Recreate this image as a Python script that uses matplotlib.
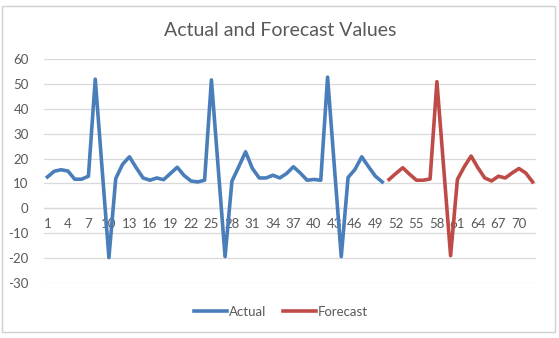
import matplotlib.pyplot as plt
from matplotlib.patches import Rectangle

plt.rcParams['font.family'] = ['Lato', 'DejaVu Sans']
plt.rcParams['axes.unicode_minus'] = False

# periods 1..72, actual covers 1..50, forecast 51..72
actual_x = list(range(1, 51))
actual = [12.6, 14.9, 15.5, 15.0, 11.7, 11.7, 12.9, 51.9, 16.0, -19.8,
          12.0, 17.7, 20.7, 16.3, 12.2, 11.3, 12.2, 11.5, 14.0, 16.5,
          13.2, 11.0, 10.6, 11.3, 51.6, 16.0, -19.4, 10.9, 16.7, 22.7,
          16.0, 12.2, 12.2, 13.3, 12.2, 14.0, 16.7, 14.2, 11.3, 11.6,
          11.3, 52.7, 16.5, -19.4, 12.4, 15.6, 20.7, 16.7, 12.9, 10.6]
forecast_x = list(range(51, 73))
forecast = [11.6, 14.0, 16.3, 13.7, 11.3, 11.3, 11.8, 50.9, 16.0, -19.0,
            11.6, 16.7, 21.0, 16.3, 12.2, 11.0, 12.9, 12.2, 14.2, 16.0,
            14.2, 10.6]
x_ticks = list(range(1, 73, 3))
y_ticks = list(range(-30, 61, 10))

txt = '#595959'
grid = '#D9D9D9'

fig = plt.figure(figsize=(5.59, 3.38), dpi=100)
ax = fig.add_axes([44 / 559, 1 - 283 / 338, 492 / 559, 224 / 338])

ax.plot(actual_x, actual, color='#4A7EBB', lw=2.6, label='Actual', zorder=3)
ax.plot(forecast_x, forecast, color='#BE4B48', lw=2.6, label='Forecast', zorder=3)

ax.set_xlim(0.5, 72.5)
ax.set_ylim(-30, 60)
ax.set_yticks(y_ticks)
ax.set_xticks(x_ticks)
ax.yaxis.grid(True, color=grid, lw=0.9)
ax.set_axisbelow(True)
for s in ['top', 'right', 'left']:
    ax.spines[s].set_visible(False)
ax.spines['bottom'].set_position(('data', 0))
ax.spines['bottom'].set_color(grid)
ax.spines['bottom'].set_linewidth(0.9)
ax.tick_params(axis='both', length=0, labelsize=9.5, labelcolor=txt)
ax.tick_params(axis='x', pad=7)
ax.tick_params(axis='y', pad=11)

fig.text(280 / 559, 1 - 30 / 338, 'Actual and Forecast Values', ha='center',
         va='center', fontsize=14, color=txt)

fig.legend(loc='center', bbox_to_anchor=(281 / 559, 1 - 312 / 338), ncol=2,
           frameon=False, fontsize=9.5, labelcolor=txt, handlelength=2.5,
           handletextpad=0.2, columnspacing=1.2)

fig.patches.append(Rectangle((2 / 559, 6 / 338), 553 / 559, 326 / 338,
                             transform=fig.transFigure, fill=False,
                             edgecolor='#D0D0D0', lw=1))

fig.savefig('out.png', dpi=100)
